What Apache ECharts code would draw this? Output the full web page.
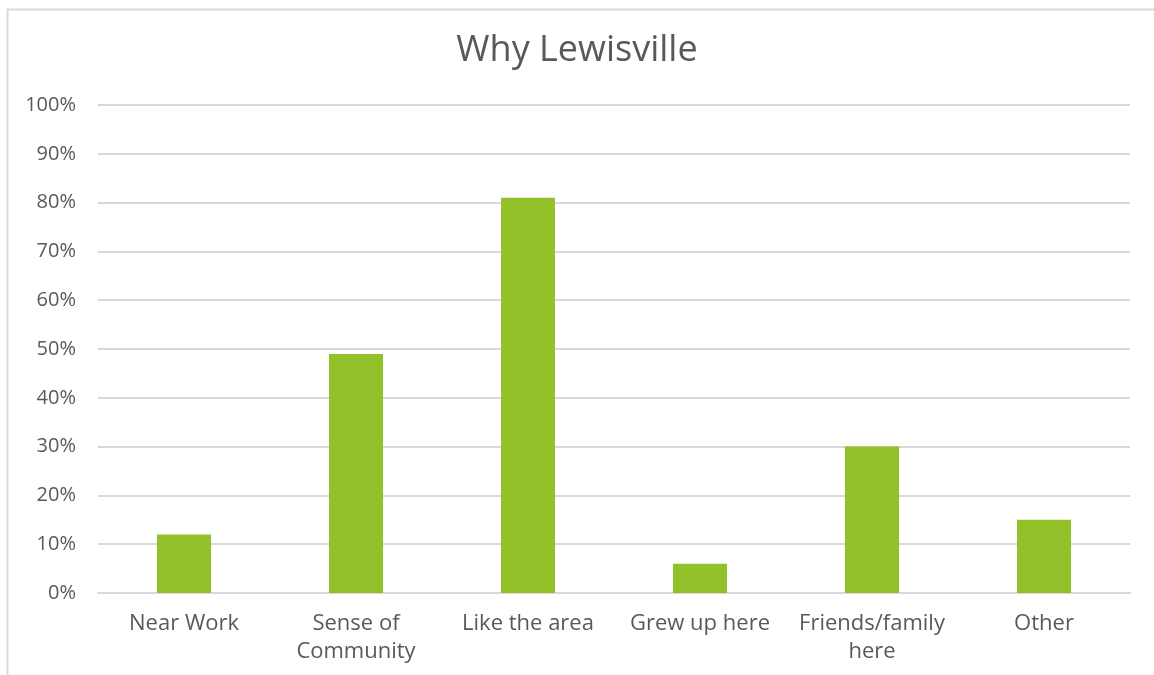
<!DOCTYPE html>
<html>
<head>
<meta charset="utf-8">
<script src="https://cdn.jsdelivr.net/npm/echarts@6/dist/echarts.min.js"></script>
<style>
html,body{margin:0;padding:0;background:#fff;}
#chart{width:1154px;height:675px;}
</style>
</head>
<body>
<div id="chart"></div>
<script>
const categories = ["Near Work", "Sense of\nCommunity", "Like the area", "Grew up here", "Friends/family\nhere", "Other"];
const values = [12, 49, 81, 6, 30, 15];
const title = "Why Lewisville";

const chart = echarts.init(document.getElementById('chart'));
const font = "'Open Sans', 'DejaVu Sans', sans-serif";
chart.setOption({
  animation: false,
  backgroundColor: '#ffffff',
  title: {
    text: title,
    left: 'center',
    top: 28,
    textStyle: {fontFamily: font, fontSize: 36, fontWeight: 'normal', color: '#595959'}
  },
  graphic: [{
    type: 'rect',
    shape: {x: 7.5, y: 9.5, width: 1200, height: 800},
    style: {fill: 'none', stroke: '#d9d9d9', lineWidth: 2},
    silent: true
  }],
  grid: {left: 98, right: 24, top: 105, bottom: 82, containLabel: false},
  xAxis: {
    type: 'category',
    data: categories,
    axisLine: {show: true, lineStyle: {color: '#d9d9d9', width: 2}},
    axisTick: {show: false},
    axisLabel: {fontFamily: font, fontSize: 22, color: '#595959', margin: 17, lineHeight: 28, interval: 0}
  },
  yAxis: {
    type: 'value',
    min: 0, max: 100, interval: 10,
    axisLine: {show: false},
    axisTick: {show: false},
    splitLine: {lineStyle: {color: '#d9d9d9', width: 2}},
    axisLabel: {fontFamily: font, fontSize: 20, color: '#595959', margin: 22, formatter: '{value}%'}
  },
  series: [{
    type: 'bar',
    data: values,
    barWidth: 54,
    itemStyle: {color: '#92C12A'}
  }]
});
</script>
</body>
</html>
